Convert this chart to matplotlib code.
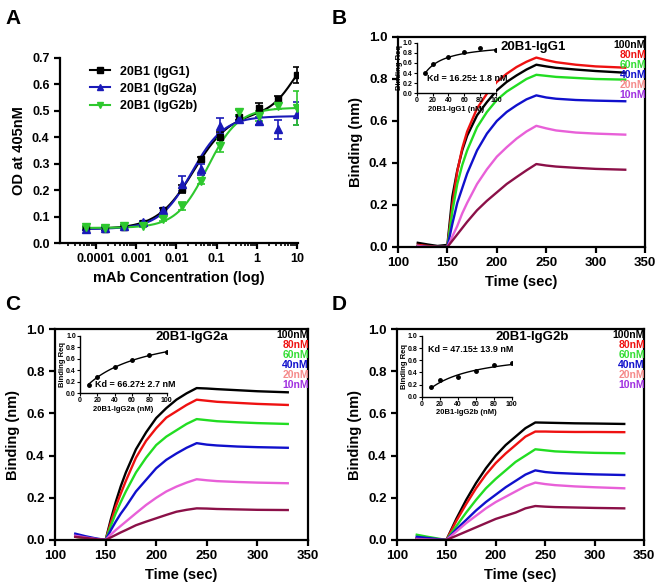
import matplotlib
matplotlib.use('Agg')
import matplotlib.pyplot as plt
import numpy as np

plt.rcParams['font.family'] = ['Liberation Sans', 'DejaVu Sans']
plt.rcParams['font.weight'] = 'bold'
plt.rcParams['axes.labelweight'] = 'bold'

W, H = 660, 583

# ---- panel A: ELISA titration ----
conc = [10, 3.333, 1.111, 0.3704, 0.1235, 0.04115, 0.01372, 0.004572,
        0.001524, 0.000508, 0.0001694, 0.0000565]
od_igg1 = [0.637, 0.543, 0.51, 0.476, 0.40, 0.317, 0.203, 0.124, 0.074, 0.06, 0.053, 0.056]
err_igg1 = [0.03, 0.015, 0.02, 0.01, 0.02, 0.01, 0.015, 0.01, 0.005, 0.005, 0.005, 0.005]
od_igg2a = [0.49, 0.43, 0.463, 0.47, 0.444, 0.279, 0.225, 0.124, 0.079, 0.063, 0.056, 0.053]
err_igg2a = [0.045, 0.035, 0.015, 0.01, 0.03, 0.02, 0.03, 0.01, 0.005, 0.005, 0.005, 0.005]
od_igg2b = [0.512, 0.517, 0.48, 0.494, 0.368, 0.235, 0.14, 0.09, 0.066, 0.063, 0.058, 0.06]
err_igg2b = [0.065, 0.01, 0.02, 0.01, 0.025, 0.01, 0.015, 0.008, 0.005, 0.005, 0.005, 0.005]

# fitted curve parameters: bottom, amplitude, EC50, hill
fit_igg1 = (0.053, 0.44, 0.027, 0.97)
fit_igg1_high = (0.25, 8.0, 1.5)   # second phase: amplitude, EC50, hill
fit_igg2a = (0.053, 0.427, 0.024, 1.09)
fit_igg2b = (0.057, 0.455, 0.059, 1.13)

# ---- panels B-D: BLI sensorgrams ----
time = [120, 130, 140, 150, 155, 160, 165, 170, 180, 190, 200, 210, 220, 230,
        240, 250, 260, 280, 300, 330]
labels_conc = ['100nM', '80nM', '60nM', '40nM', '20nM', '10nM']
line_colors = ['#000000', '#ee1111', '#22dd22', '#1010cc', '#e860d8', '#8b1048']
text_colors = ['#000000', '#ee1111', '#33dd33', '#1010cc', '#f58a8a', '#a030e0']

b_100 = [0.02, 0.012, 0.005, 0.01, 0.24, 0.365, 0.46, 0.53, 0.627, 0.69, 0.746, 0.786, 0.817, 0.845, 0.868, 0.86, 0.853, 0.845, 0.838, 0.83]
b_80 = [0.01, 0.005, 0.0, 0.0, 0.20, 0.36, 0.47, 0.55, 0.66, 0.73, 0.786, 0.825, 0.857, 0.882, 0.902, 0.89, 0.88, 0.868, 0.86, 0.854]
b_60 = [0.005, 0.0, 0.0, 0.0, 0.17, 0.30, 0.39, 0.46, 0.57, 0.643, 0.70, 0.74, 0.77, 0.80, 0.82, 0.815, 0.81, 0.805, 0.80, 0.797]
b_40 = [0.005, 0.0, 0.0, 0.0, 0.11, 0.21, 0.28, 0.35, 0.46, 0.54, 0.60, 0.643, 0.675, 0.703, 0.722, 0.712, 0.706, 0.70, 0.697, 0.694]
b_20 = [0.005, 0.0, 0.0, 0.0, 0.05, 0.10, 0.16, 0.21, 0.30, 0.37, 0.43, 0.475, 0.516, 0.55, 0.577, 0.565, 0.555, 0.545, 0.54, 0.535]
b_10 = [0.0, 0.0, 0.0, 0.0, 0.03, 0.06, 0.09, 0.12, 0.175, 0.22, 0.26, 0.30, 0.333, 0.365, 0.395, 0.388, 0.383, 0.377, 0.372, 0.368]

c_100 = [0.02, 0.012, 0.005, 0.0, 0.095, 0.18, 0.255, 0.32, 0.43, 0.51, 0.578, 0.625, 0.665, 0.695, 0.72, 0.718, 0.715, 0.71, 0.705, 0.70]
c_80 = [0.015, 0.01, 0.004, 0.0, 0.08, 0.158, 0.22, 0.28, 0.39, 0.47, 0.53, 0.58, 0.61, 0.64, 0.665, 0.66, 0.655, 0.65, 0.645, 0.64]
c_60 = [0.015, 0.01, 0.004, 0.0, 0.065, 0.127, 0.18, 0.23, 0.32, 0.39, 0.45, 0.49, 0.52, 0.55, 0.573, 0.568, 0.563, 0.558, 0.554, 0.55]
c_40 = [0.03, 0.018, 0.008, 0.0, 0.045, 0.087, 0.125, 0.158, 0.23, 0.285, 0.34, 0.38, 0.41, 0.437, 0.459, 0.452, 0.448, 0.443, 0.44, 0.437]
c_20 = [0.02, 0.012, 0.005, 0.0, 0.025, 0.047, 0.067, 0.087, 0.127, 0.166, 0.20, 0.23, 0.253, 0.272, 0.288, 0.283, 0.279, 0.275, 0.272, 0.269]
c_10 = [0.015, 0.01, 0.004, 0.0, 0.012, 0.024, 0.036, 0.047, 0.07, 0.087, 0.103, 0.119, 0.134, 0.143, 0.15, 0.149, 0.147, 0.145, 0.143, 0.142]

d_100 = [0.01, 0.006, 0.003, 0.0, 0.05, 0.10, 0.145, 0.19, 0.27, 0.34, 0.40, 0.45, 0.49, 0.53, 0.557, 0.556, 0.555, 0.553, 0.552, 0.55]
d_80 = [0.005, 0.003, 0.001, 0.0, 0.045, 0.09, 0.13, 0.17, 0.245, 0.31, 0.365, 0.41, 0.45, 0.49, 0.514, 0.514, 0.513, 0.512, 0.512, 0.511]
d_60 = [0.025, 0.016, 0.008, 0.0, 0.033, 0.065, 0.098, 0.13, 0.19, 0.245, 0.29, 0.33, 0.37, 0.40, 0.43, 0.425, 0.42, 0.416, 0.413, 0.411]
d_40 = [0.015, 0.01, 0.005, 0.0, 0.025, 0.05, 0.073, 0.095, 0.14, 0.18, 0.215, 0.25, 0.28, 0.31, 0.33, 0.322, 0.318, 0.314, 0.311, 0.308]
d_20 = [0.005, 0.003, 0.001, 0.0, 0.02, 0.04, 0.06, 0.08, 0.115, 0.15, 0.18, 0.205, 0.23, 0.255, 0.272, 0.265, 0.26, 0.254, 0.25, 0.245]
d_10 = [0.0, 0.0, 0.0, 0.0, 0.01, 0.02, 0.03, 0.04, 0.06, 0.08, 0.10, 0.115, 0.13, 0.15, 0.161, 0.158, 0.156, 0.154, 0.152, 0.15]

# ---- insets: steady state binding ----
inset_conc = [10, 20, 40, 60, 80, 100]
req_igg1 = [0.40, 0.58, 0.72, 0.82, 0.90, 0.86]
req_igg2a = [0.15, 0.28, 0.46, 0.57, 0.66, 0.72]
req_igg2b = [0.16, 0.27, 0.32, 0.43, 0.52, 0.55]
kd_vals = [16.25, 66.27, 47.15]
kd_errs = [1.8, 2.7, 13.9]
bmax_vals = [1.0, 1.2, 0.78]


def px_axes(fig, left, top, right, bottom):
    return fig.add_axes([left / W, 1 - bottom / H, (right - left) / W, (bottom - top) / H])


def style(ax, lw=1.6, size=9.5):
    for s in ax.spines.values():
        s.set_linewidth(lw)
    ax.tick_params(width=lw, length=4, labelsize=size, direction='out')


fig = plt.figure(figsize=(6.6, 5.83), dpi=100)

# panel A
axA = px_axes(fig, 60, 58, 298, 243)
style(axA)
axA.spines['top'].set_visible(False)
axA.spines['right'].set_visible(False)
xs = np.logspace(np.log10(conc[-1]), 1, 300)
b, a, ec, h = fit_igg1
a2, ec2, h2 = fit_igg1_high
axA.plot(xs, b + a / (1 + (ec / xs) ** h) + a2 / (1 + (ec2 / xs) ** h2), color='black', lw=1.5)
b, a, ec, h = fit_igg2a
axA.plot(xs, b + a / (1 + (ec / xs) ** h), color='#1a1ab8', lw=1.5)
b, a, ec, h = fit_igg2b
axA.plot(xs, b + a / (1 + (ec / xs) ** h), color='#2ec82e', lw=1.5)
axA.errorbar(conc, od_igg1, yerr=err_igg1, fmt='s', color='black', ms=5, capsize=3, elinewidth=1.2, capthick=1.2)
axA.errorbar(conc, od_igg2a, yerr=err_igg2a, fmt='^', color='#1a1ab8', ms=5.5, capsize=3, elinewidth=1.2, capthick=1.2)
axA.errorbar(conc, od_igg2b, yerr=err_igg2b, fmt='v', color='#2ec82e', ms=5.5, capsize=3, elinewidth=1.2, capthick=1.2)
axA.set_xscale('log')
axA.set_xlim(1.3e-5, 10.5)
axA.set_ylim(0, 0.7)
axA.set_xticks([1e-4, 1e-3, 1e-2, 1e-1, 1, 10])
axA.set_xticklabels(['0.0001', '0.001', '0.01', '0.1', '1', '10'])
axA.set_yticks(np.arange(0, 0.71, 0.1))
axA.set_yticklabels(['%.1f' % v for v in np.arange(0, 0.71, 0.1)])
axA.tick_params(which='minor', width=1.2, length=2.5)
axA.tick_params(labelsize=9)
axA.set_xlabel('mAb Concentration (log)', fontsize=10.5)
axA.set_ylabel('OD at 405nM', fontsize=10.5)
hA = [axA.plot([], [], marker=m, color=c, lw=1.5, ms=5)[0]
      for m, c in [('s', 'black'), ('^', '#1a1ab8'), ('v', '#2ec82e')]]
axA.legend(hA, ['20B1 (IgG1)', '20B1 (IgG2a)', '20B1 (IgG2b)'], loc='upper left',
           bbox_to_anchor=(0.08, 1.02), frameon=False, fontsize=9, handlelength=1.6,
           handletextpad=0.8, labelspacing=0.42)

panels = [
    ((398, 37, 645, 247), (416.7, 42.7, 496, 93.3), [b_100, b_80, b_60, b_40, b_20, b_10],
     req_igg1, '20B1-IgG1', (533, 47), (13, 0.30), 0),
    ((55, 329, 308, 540), (80, 335.7, 166.7, 393.3), [c_100, c_80, c_60, c_40, c_20, c_10],
     req_igg2a, '20B1-IgG2a', (192, 337), (17, 0.16), 1),
    ((397, 329, 644, 540), (421.7, 336, 511.7, 396.7), [d_100, d_80, d_60, d_40, d_20, d_10],
     req_igg2b, '20B1-IgG2b', (532, 337), (7, 0.77), 2),
]

for box, ibox, curves, req, name, name_xy, kd_xy, k in panels:
    ax = px_axes(fig, *box)
    style(ax)
    for vals, col in zip(curves, line_colors):
        ax.plot(time, vals, color=col, lw=1.7)
    ax.set_xlim(100, 350)
    ax.set_ylim(0, 1.0)
    ax.set_xticks([100, 150, 200, 250, 300, 350])
    ax.set_yticks(np.arange(0, 1.01, 0.2))
    ax.set_yticklabels(['%.1f' % v for v in np.arange(0, 1.01, 0.2)])
    ax.set_xlabel('Time (sec)', fontsize=10.5)
    ax.set_ylabel('Binding (nm)', fontsize=10.5)
    fig.text(name_xy[0] / W, 1 - name_xy[1] / H, name, ha='center', va='center', fontsize=9.5)
    for i, (lab, tc) in enumerate(zip(labels_conc, text_colors)):
        fig.text((box[2] + 1) / W, 1 - (name_xy[1] - 2 + i * 10) / H, lab, color=tc,
                 ha='right', va='center', fontsize=7.5)

    ins = px_axes(fig, *ibox)
    ins.spines['top'].set_visible(False)
    ins.spines['right'].set_visible(False)
    for s in ins.spines.values():
        s.set_linewidth(1.0)
    ins.tick_params(width=0.8, length=2, labelsize=5, pad=1)
    xi = np.linspace(inset_conc[0], inset_conc[-1], 100)
    ins.plot(xi, bmax_vals[k] * xi / (kd_vals[k] + xi), color='black', lw=1.0)
    ins.plot(inset_conc, req, 'o', color='black', ms=2.5)
    ins.set_xlim(0, 100)
    ins.set_ylim(0, 1.0)
    ins.set_xticks([0, 20, 40, 60, 80, 100])
    ins.set_yticks(np.arange(0, 1.01, 0.2))
    ins.set_yticklabels(['%.1f' % v for v in np.arange(0, 1.01, 0.2)])
    ins.set_xlabel(name + ' (nM)', fontsize=5.5, labelpad=1)
    ins.set_ylabel('Binding Req', fontsize=5.5, labelpad=0)
    ins.text(kd_xy[0], kd_xy[1], 'Kd = %.2f\u00b1 %.1f nM' % (kd_vals[k], kd_errs[k]),
             fontsize=6.5, va='center', ha='left')

for letter, x, y in [('A', 5, 18), ('B', 332, 18), ('C', 5, 305), ('D', 332, 305)]:
    fig.text(x / W, 1 - y / H, letter, fontsize=15, fontweight='bold', va='center', ha='left')

fig.savefig('out.png', dpi=100)
